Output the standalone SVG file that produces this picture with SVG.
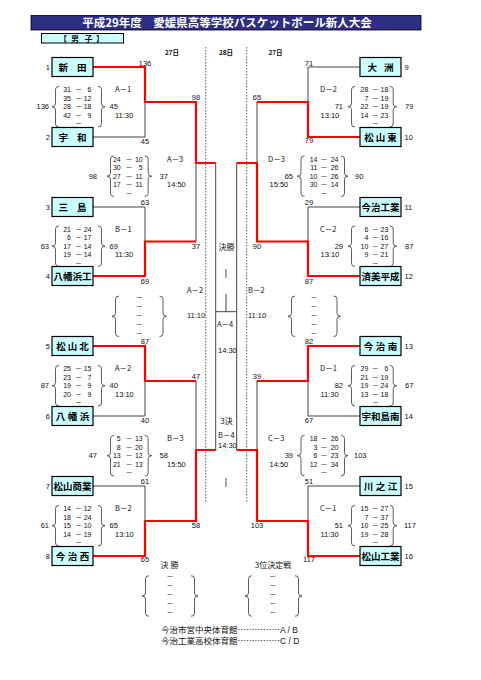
<svg xmlns="http://www.w3.org/2000/svg" width="481" height="680" viewBox="0 0 481 680">
<style>
text{font-family:"Liberation Sans",Arial,"Noto Sans CJK JP",sans-serif;fill:#111}
.n{font-size:7.5px}
.s{font-size:7px}
.e{text-anchor:end}
.m{text-anchor:middle}
.j{font-family:"Noto Sans CJK JP","Liberation Sans",sans-serif}
.d{font-family:"Noto Sans CJK JP",sans-serif;font-size:7px;text-anchor:middle}
.tm{font-family:"Noto Sans CJK JP",sans-serif;font-size:9.5px;font-weight:700;text-anchor:middle;fill:#000}
.hd{font-family:"Noto Sans CJK JP",sans-serif;font-size:6.5px;font-weight:700;text-anchor:middle}
.box{fill:#ccffff;stroke:#000;stroke-width:1.2}
.w{fill:none;stroke:#ff0000;stroke-width:2.2}
.l{fill:none;stroke:#444;stroke-width:1}
.br{fill:none;stroke:#333;stroke-width:0.8}
.dot{stroke:#333;stroke-width:0.8;stroke-dasharray:1.5 1.5}
.ft{font-family:"Noto Sans CJK JP",sans-serif;font-size:8.5px}
</style>
<defs>
<path id="bL" d="M7,-20.25 Q3.5,-20.25 3.5,-17.25 L3.5,-3 Q3.5,0 0,0 Q3.5,0 3.5,3 L3.5,17.25 Q3.5,20.25 7,20.25"/>
<path id="bR" d="M-7,-20.25 Q-3.5,-20.25 -3.5,-17.25 L-3.5,-3 Q-3.5,0 0,0 Q-3.5,0 -3.5,3 L-3.5,17.25 Q-3.5,20.25 -7,20.25"/>
</defs>
<rect width="481" height="680" fill="#fff"/>

<g id="title">
<rect x="31" y="15.5" width="390" height="14.5" fill="#2e2e85" stroke="#000" stroke-width="0.8"/>
<text x="227" y="27" style="font-family:'Noto Sans CJK JP',sans-serif;font-size:11.5px;font-weight:700;fill:#fff;text-anchor:middle">平成29年度　愛媛県高等学校バスケットボール新人大会</text>
</g>
<g id="category">
<rect x="41.5" y="33.5" width="82" height="9.5" fill="#ccffff" stroke="#000" stroke-width="1"/>
<text x="63 75 88.5 100" y="41.5" style="font-family:'Noto Sans CJK JP',sans-serif;font-size:8px;font-weight:700;text-anchor:middle">【男子】</text>
</g>
<g id="days">
<text class="hd" x="172" y="55">27日</text>
<text class="hd" x="226" y="55">28日</text>
<text class="hd" x="275.5" y="55">27日</text>
<line class="dot" x1="205.7" y1="47" x2="205.7" y2="503"/>
<line class="dot" x1="246.7" y1="47" x2="246.7" y2="503"/>
</g>

<g id="connectors">
<path class="l" d="M93,137 H145 V102"/>
<path class="l" d="M93,207 H145 V241.5"/>
<path class="l" d="M196,163 V241.5"/>
<path class="l" d="M93,416 H145 V381"/>
<path class="l" d="M196,381 V450"/>
<path class="l" d="M93,486 H145 V521"/>
<path class="l" d="M360,67 H308 V102"/>
<path class="l" d="M257,102 V163"/>
<path class="l" d="M360,207 H308 V241.5"/>
<path class="l" d="M360,416 H308 V381"/>
<path class="l" d="M257,381 V450"/>
<path class="l" d="M360,486 H308 V521"/>
<path class="l" d="M215.7,163 V450 M236.7,163 V450 M215.7,311.7 H236.7 M226,294 V311.7"/>
<path class="w" d="M93,67 H145 V102 H196 V163 H215.7"/>
<path class="w" d="M93,276 H145 V241.5 H196"/>
<path class="w" d="M93,346 H145 V381 H196"/>
<path class="w" d="M93,556 H145 V521 H196 V450 H215.7"/>
<path class="w" d="M360,137 H308 V102 H257"/>
<path class="w" d="M360,276 H308 V241.5 H257 V163 H236.7"/>
<path class="w" d="M360,346 H308 V381 H257"/>
<path class="w" d="M360,556 H308 V521 H257 V450 H236.7"/>
</g>

<g id="line-scores" class="n m">
<text x="145" y="65.5">136</text><text x="145" y="143.5">45</text>
<text x="145" y="205">63</text><text x="145" y="283.5">69</text>
<text x="145" y="344">87</text><text x="145" y="422.5">40</text>
<text x="145" y="483.5">61</text><text x="145" y="562">65</text>
<text x="196" y="100">98</text><text x="196" y="249">37</text>
<text x="196" y="379">47</text><text x="196" y="527.5">58</text>
<text x="309" y="65.5">71</text><text x="309" y="142.5">79</text>
<text x="309" y="205">29</text><text x="309" y="283.5">87</text>
<text x="309" y="344">82</text><text x="309" y="422.5">67</text>
<text x="309" y="484">51</text><text x="309" y="562">117</text>
<text x="257" y="100">65</text><text x="257" y="249">90</text>
<text x="257" y="379">39</text><text x="257" y="527.5">103</text>
</g>

<g id="team-1"><rect class="box" x="52" y="57.5" width="41" height="19"/><text class="tm" x="63.3 81.8" y="70.5">新田</text><text class="n e" x="50" y="69.7">1</text></g>
<g id="team-2"><rect class="box" x="52" y="127.5" width="41" height="19"/><text class="tm" x="63.3 81.8" y="140.5">宇和</text><text class="n e" x="50" y="139.7">2</text></g>
<g id="team-3"><rect class="box" x="52" y="197.5" width="41" height="19"/><text class="tm" x="63.3 81.8" y="210.5">三島</text><text class="n e" x="50" y="209.7">3</text></g>
<g id="team-4"><rect class="box" x="52" y="266.5" width="41" height="19"/><text class="tm" x="72.5" y="279.5">八幡浜工</text><text class="n e" x="50" y="278.7">4</text></g>
<g id="team-5"><rect class="box" x="52" y="336.5" width="41" height="19"/><text class="tm" x="61 72.5 84" y="349.5">松山北</text><text class="n e" x="50" y="348.7">5</text></g>
<g id="team-6"><rect class="box" x="52" y="406.5" width="41" height="19"/><text class="tm" x="60.5 72.5 84.5" y="419.5">八幡浜</text><text class="n e" x="50" y="418.7">6</text></g>
<g id="team-7"><rect class="box" x="52" y="476.5" width="41" height="19"/><text class="tm" x="72.5" y="489.5">松山商業</text><text class="n e" x="50" y="488.7">7</text></g>
<g id="team-8"><rect class="box" x="52" y="546.5" width="41" height="19"/><text class="tm" x="60.5 72.5 84.5" y="559.5">今治西</text><text class="n e" x="50" y="558.7">8</text></g>
<g id="team-9"><rect class="box" x="360" y="57.5" width="41" height="19"/><text class="tm" x="372.2 388.8" y="70.5">大洲</text><text class="n" x="404.5" y="69.7">9</text></g>
<g id="team-10"><rect class="box" x="360" y="127.5" width="41" height="19"/><text class="tm" x="369 380.5 392" y="140.5">松山東</text><text class="n" x="404.5" y="139.7">10</text></g>
<g id="team-11"><rect class="box" x="360" y="197.5" width="41" height="19"/><text class="tm" x="380.5" y="210.5">今治工業</text><text class="n" x="404.5" y="209.7">11</text></g>
<g id="team-12"><rect class="box" x="360" y="266.5" width="41" height="19"/><text class="tm" x="380.5" y="279.5">済美平成</text><text class="n" x="404.5" y="278.7">12</text></g>
<g id="team-13"><rect class="box" x="360" y="336.5" width="41" height="19"/><text class="tm" x="368.5 380.5 392.5" y="349.5">今治南</text><text class="n" x="404.5" y="348.7">13</text></g>
<g id="team-14"><rect class="box" x="360" y="406.5" width="41" height="19"/><text class="tm" x="380.5" y="419.5">宇和島南</text><text class="n" x="404.5" y="418.7">14</text></g>
<g id="team-15"><rect class="box" x="360" y="476.5" width="41" height="19"/><text class="tm" x="368.5 380.5 392.5" y="489.5">川之江</text><text class="n" x="404.5" y="488.7">15</text></g>
<g id="team-16"><rect class="box" x="360" y="546.5" width="41" height="19"/><text class="tm" x="380.5" y="559.5">松山工業</text><text class="n" x="404.5" y="558.7">16</text></g>

<!-- Left first round -->
<g id="game-A1" transform="translate(0,102)">
<text class="n e" x="49" y="7.4">136</text><use href="#bL" class="br" x="52" y="4.7"/>
<text class="s e" x="71" y="-10">31</text><text class="d" x="78.5" y="-10">－</text><text class="s e" x="91.5" y="-10">6</text>
<text class="s e" x="71" y="-1.4">35</text><text class="d" x="78.5" y="-1.4">－</text><text class="s e" x="91.5" y="-1.4">12</text>
<text class="s e" x="71" y="7.2">28</text><text class="d" x="78.5" y="7.2">－</text><text class="s e" x="91.5" y="7.2">18</text>
<text class="s e" x="71" y="15.8">42</text><text class="d" x="78.5" y="15.8">－</text><text class="s e" x="91.5" y="15.8">9</text>
<text class="d" x="78.5" y="24.4">－</text>
<use href="#bR" class="br" x="105" y="4.7"/><text class="n" x="109.5" y="7.4">45</text>
<text class="n j" x="115" y="-10">A－1</text><text class="n" x="115" y="15.7">11:30</text>
</g>
<g id="game-B1" transform="translate(0,241.5)">
<text class="n e" x="49" y="7.4">63</text><use href="#bL" class="br" x="52" y="4.7"/>
<text class="s e" x="71" y="-10">21</text><text class="d" x="78.5" y="-10">－</text><text class="s e" x="91.5" y="-10">24</text>
<text class="s e" x="71" y="-1.4">6</text><text class="d" x="78.5" y="-1.4">－</text><text class="s e" x="91.5" y="-1.4">17</text>
<text class="s e" x="71" y="7.2">17</text><text class="d" x="78.5" y="7.2">－</text><text class="s e" x="91.5" y="7.2">14</text>
<text class="s e" x="71" y="15.8">19</text><text class="d" x="78.5" y="15.8">－</text><text class="s e" x="91.5" y="15.8">14</text>
<text class="d" x="78.5" y="24.4">－</text>
<use href="#bR" class="br" x="105" y="4.7"/><text class="n" x="109.5" y="7.4">69</text>
<text class="n j" x="115" y="-10">B－1</text><text class="n" x="115" y="15.7">11:30</text>
</g>
<g id="game-A2" transform="translate(0,381)">
<text class="n e" x="49" y="7.4">87</text><use href="#bL" class="br" x="52" y="4.7"/>
<text class="s e" x="71" y="-10">25</text><text class="d" x="78.5" y="-10">－</text><text class="s e" x="91.5" y="-10">15</text>
<text class="s e" x="71" y="-1.4">23</text><text class="d" x="78.5" y="-1.4">－</text><text class="s e" x="91.5" y="-1.4">7</text>
<text class="s e" x="71" y="7.2">19</text><text class="d" x="78.5" y="7.2">－</text><text class="s e" x="91.5" y="7.2">9</text>
<text class="s e" x="71" y="15.8">20</text><text class="d" x="78.5" y="15.8">－</text><text class="s e" x="91.5" y="15.8">9</text>
<text class="d" x="78.5" y="24.4">－</text>
<use href="#bR" class="br" x="105" y="4.7"/><text class="n" x="109.5" y="7.4">40</text>
<text class="n j" x="115" y="-10">A－2</text><text class="n" x="115" y="15.7">13:10</text>
</g>
<g id="game-B2" transform="translate(0,521)">
<text class="n e" x="49" y="7.4">61</text><use href="#bL" class="br" x="52" y="4.7"/>
<text class="s e" x="71" y="-10">14</text><text class="d" x="78.5" y="-10">－</text><text class="s e" x="91.5" y="-10">12</text>
<text class="s e" x="71" y="-1.4">18</text><text class="d" x="78.5" y="-1.4">－</text><text class="s e" x="91.5" y="-1.4">24</text>
<text class="s e" x="71" y="7.2">15</text><text class="d" x="78.5" y="7.2">－</text><text class="s e" x="91.5" y="7.2">10</text>
<text class="s e" x="71" y="15.8">14</text><text class="d" x="78.5" y="15.8">－</text><text class="s e" x="91.5" y="15.8">19</text>
<text class="d" x="78.5" y="24.4">－</text>
<use href="#bR" class="br" x="105" y="4.7"/><text class="n" x="109.5" y="7.4">65</text>
<text class="n j" x="115" y="-10">B－2</text><text class="n" x="115" y="15.7">13:10</text>
</g>

<!-- Left semis -->
<g id="game-A3" transform="translate(0,171.5)">
<text class="n e" x="97" y="7.4">98</text><use href="#bL" class="br" x="107" y="4.7"/>
<text class="s e" x="120.7" y="-10">24</text><text class="d" x="129" y="-10">－</text><text class="s e" x="142.7" y="-10">10</text>
<text class="s e" x="120.7" y="-1.4">30</text><text class="d" x="129" y="-1.4">－</text><text class="s e" x="142.7" y="-1.4">5</text>
<text class="s e" x="120.7" y="7.2">27</text><text class="d" x="129" y="7.2">－</text><text class="s e" x="142.7" y="7.2">11</text>
<text class="s e" x="120.7" y="15.8">17</text><text class="d" x="129" y="15.8">－</text><text class="s e" x="142.7" y="15.8">11</text>
<text class="d" x="129" y="24.4">－</text>
<use href="#bR" class="br" x="151.7" y="4.7"/><text class="n" x="159.5" y="7.4">37</text>
<text class="n j" x="167" y="-10">A－3</text><text class="n" x="167" y="15.7">14:50</text>
</g>
<g id="game-B3" transform="translate(0,451)">
<text class="n e" x="97" y="7.4">47</text><use href="#bL" class="br" x="107" y="4.7"/>
<text class="s e" x="120.7" y="-10">5</text><text class="d" x="129" y="-10">－</text><text class="s e" x="142.7" y="-10">13</text>
<text class="s e" x="120.7" y="-1.4">8</text><text class="d" x="129" y="-1.4">－</text><text class="s e" x="142.7" y="-1.4">20</text>
<text class="s e" x="120.7" y="7.2">13</text><text class="d" x="129" y="7.2">－</text><text class="s e" x="142.7" y="7.2">12</text>
<text class="s e" x="120.7" y="15.8">21</text><text class="d" x="129" y="15.8">－</text><text class="s e" x="142.7" y="15.8">13</text>
<text class="d" x="129" y="24.4">－</text>
<use href="#bR" class="br" x="151.7" y="4.7"/><text class="n" x="159.5" y="7.4">58</text>
<text class="n j" x="167" y="-10">B－3</text><text class="n" x="167" y="15.7">15:50</text>
</g>

<!-- Right first round -->
<g id="game-D2" transform="translate(0,102)">
<text class="n j" x="320" y="-10">D－2</text><text class="n" x="320.5" y="15.7">13:10</text>
<text class="n e" x="343" y="7.4">71</text><use href="#bL" class="br" x="348" y="4.7"/>
<text class="s e" x="368.3" y="-10">28</text><text class="d" x="375.2" y="-10">－</text><text class="s e" x="388.3" y="-10">18</text>
<text class="s e" x="368.3" y="-1.4">7</text><text class="d" x="375.2" y="-1.4">－</text><text class="s e" x="388.3" y="-1.4">19</text>
<text class="s e" x="368.3" y="7.2">22</text><text class="d" x="375.2" y="7.2">－</text><text class="s e" x="388.3" y="7.2">19</text>
<text class="s e" x="368.3" y="15.8">14</text><text class="d" x="375.2" y="15.8">－</text><text class="s e" x="388.3" y="15.8">23</text>
<text class="d" x="375.2" y="24.4">－</text>
<use href="#bR" class="br" x="396.7" y="4.7"/><text class="n" x="405" y="7.4">79</text>
</g>
<g id="game-C2" transform="translate(0,241.5)">
<text class="n j" x="320" y="-10">C－2</text><text class="n" x="320.5" y="15.7">13:10</text>
<text class="n e" x="343" y="7.4">29</text><use href="#bL" class="br" x="348" y="4.7"/>
<text class="s e" x="368.3" y="-10">6</text><text class="d" x="375.2" y="-10">－</text><text class="s e" x="388.3" y="-10">23</text>
<text class="s e" x="368.3" y="-1.4">4</text><text class="d" x="375.2" y="-1.4">－</text><text class="s e" x="388.3" y="-1.4">16</text>
<text class="s e" x="368.3" y="7.2">10</text><text class="d" x="375.2" y="7.2">－</text><text class="s e" x="388.3" y="7.2">27</text>
<text class="s e" x="368.3" y="15.8">9</text><text class="d" x="375.2" y="15.8">－</text><text class="s e" x="388.3" y="15.8">21</text>
<text class="d" x="375.2" y="24.4">－</text>
<use href="#bR" class="br" x="396.7" y="4.7"/><text class="n" x="405" y="7.4">87</text>
</g>
<g id="game-D1" transform="translate(0,381)">
<text class="n j" x="320" y="-10">D－1</text><text class="n" x="320.5" y="15.7">11:30</text>
<text class="n e" x="343" y="7.4">82</text><use href="#bL" class="br" x="348" y="4.7"/>
<text class="s e" x="368.3" y="-10">29</text><text class="d" x="375.2" y="-10">－</text><text class="s e" x="388.3" y="-10">6</text>
<text class="s e" x="368.3" y="-1.4">21</text><text class="d" x="375.2" y="-1.4">－</text><text class="s e" x="388.3" y="-1.4">19</text>
<text class="s e" x="368.3" y="7.2">19</text><text class="d" x="375.2" y="7.2">－</text><text class="s e" x="388.3" y="7.2">24</text>
<text class="s e" x="368.3" y="15.8">13</text><text class="d" x="375.2" y="15.8">－</text><text class="s e" x="388.3" y="15.8">18</text>
<text class="d" x="375.2" y="24.4">－</text>
<use href="#bR" class="br" x="396.7" y="4.7"/><text class="n" x="405" y="7.4">67</text>
</g>
<g id="game-C1" transform="translate(0,521)">
<text class="n j" x="320" y="-10">C－1</text><text class="n" x="320.5" y="15.7">11:30</text>
<text class="n e" x="343" y="7.4">51</text><use href="#bL" class="br" x="348" y="4.7"/>
<text class="s e" x="368.3" y="-10">15</text><text class="d" x="375.2" y="-10">－</text><text class="s e" x="388.3" y="-10">27</text>
<text class="s e" x="368.3" y="-1.4">7</text><text class="d" x="375.2" y="-1.4">－</text><text class="s e" x="388.3" y="-1.4">37</text>
<text class="s e" x="368.3" y="7.2">10</text><text class="d" x="375.2" y="7.2">－</text><text class="s e" x="388.3" y="7.2">25</text>
<text class="s e" x="368.3" y="15.8">19</text><text class="d" x="375.2" y="15.8">－</text><text class="s e" x="388.3" y="15.8">28</text>
<text class="d" x="375.2" y="24.4">－</text>
<use href="#bR" class="br" x="396.7" y="4.7"/><text class="n" x="404" y="7.4">117</text>
</g>

<!-- Right semis -->
<g id="game-D3" transform="translate(0,171.5)">
<text class="n j" x="268" y="-10">D－3</text><text class="n" x="269.5" y="15.7">15:50</text>
<text class="n e" x="293" y="7.4">65</text><use href="#bL" class="br" x="297.5" y="4.7"/>
<text class="s e" x="317.5" y="-10">14</text><text class="d" x="324" y="-10">－</text><text class="s e" x="338.5" y="-10">24</text>
<text class="s e" x="317.5" y="-1.4">11</text><text class="d" x="324" y="-1.4">－</text><text class="s e" x="338.5" y="-1.4">26</text>
<text class="s e" x="317.5" y="7.2">10</text><text class="d" x="324" y="7.2">－</text><text class="s e" x="338.5" y="7.2">26</text>
<text class="s e" x="317.5" y="15.8">30</text><text class="d" x="324" y="15.8">－</text><text class="s e" x="338.5" y="15.8">14</text>
<text class="d" x="324" y="24.4">－</text>
<use href="#bR" class="br" x="348" y="4.7"/><text class="n" x="355" y="7.4">90</text>
</g>
<g id="game-C3" transform="translate(0,451)">
<text class="n j" x="268" y="-10">C－3</text><text class="n" x="269.5" y="15.7">14:50</text>
<text class="n e" x="293" y="7.4">39</text><use href="#bL" class="br" x="297.5" y="4.7"/>
<text class="s e" x="317.5" y="-10">18</text><text class="d" x="324" y="-10">－</text><text class="s e" x="338.5" y="-10">26</text>
<text class="s e" x="317.5" y="-1.4">3</text><text class="d" x="324" y="-1.4">－</text><text class="s e" x="338.5" y="-1.4">20</text>
<text class="s e" x="317.5" y="7.2">6</text><text class="d" x="324" y="7.2">－</text><text class="s e" x="338.5" y="7.2">23</text>
<text class="s e" x="317.5" y="15.8">12</text><text class="d" x="324" y="15.8">－</text><text class="s e" x="338.5" y="15.8">34</text>
<text class="d" x="324" y="24.4">－</text>
<use href="#bR" class="br" x="348" y="4.7"/><text class="n" x="354" y="7.4">103</text>
</g>

<!-- Centre -->
<g id="centre">
<text class="n j m" x="226.5" y="249.5" style="font-size:8px">決勝</text>
<text class="n m" x="226" y="275.5" style="font-size:9px">|</text>
<text class="n j" x="187" y="292.5">A－2</text><text class="n" x="187" y="318">11:10</text>
<text class="n j" x="248" y="292.5">B－2</text><text class="n" x="248" y="318">11:10</text>
<text class="n j" x="217" y="326.5">A－4</text><text class="n" x="218" y="353">14:30</text>
<text class="n j m" x="226.5" y="424" style="font-size:8px">3決</text>
<text class="n j" x="218" y="438">B－4</text><text class="n" x="218" y="447.5">14:30</text>
<text class="n m" x="226" y="485" style="font-size:9px">|</text>
</g>
<g id="empty-left" transform="translate(0,316.3)">
<use href="#bL" class="br" x="112" y="0"/>
<text class="d"><tspan x="139.3" y="-16.5">－</tspan><tspan x="139.3" y="-7.5">－</tspan><tspan x="139.3" y="1.5">－</tspan><tspan x="139.3" y="10.5">－</tspan><tspan x="139.3" y="19.5">－</tspan></text>
<use href="#bR" class="br" x="166.5" y="0"/>
</g>
<g id="empty-right" transform="translate(0,316.3)">
<use href="#bL" class="br" x="288" y="0"/>
<text class="d"><tspan x="314" y="-16.5">－</tspan><tspan x="314" y="-7.5">－</tspan><tspan x="314" y="1.5">－</tspan><tspan x="314" y="10.5">－</tspan><tspan x="314" y="19.5">－</tspan></text>
<use href="#bR" class="br" x="340.5" y="0"/>
</g>

<!-- Bottom -->
<g id="final" transform="translate(0,596)">
<text class="n j m" x="169.5" y="-28" style="font-size:8px">決 勝</text>
<use href="#bL" class="br" x="142" y="0"/>
<text class="d"><tspan x="170" y="-17">－</tspan><tspan x="170" y="-8">－</tspan><tspan x="170" y="1">－</tspan><tspan x="170" y="10">－</tspan><tspan x="170" y="19">－</tspan></text>
<use href="#bR" class="br" x="198" y="0"/>
</g>
<g id="third" transform="translate(0,596)">
<text class="n j m" x="273" y="-28" style="font-size:8px">3位決定戦</text>
<use href="#bL" class="br" x="245" y="0"/>
<text class="d"><tspan x="272.7" y="-17">－</tspan><tspan x="272.7" y="-8">－</tspan><tspan x="272.7" y="1">－</tspan><tspan x="272.7" y="10">－</tspan><tspan x="272.7" y="19">－</tspan></text>
<use href="#bR" class="br" x="302" y="0"/>
</g>
<g id="venues">
<text class="ft" x="161" y="633">今治市営中央体育館……………<tspan style="font-family:'Liberation Sans',sans-serif;font-size:8.5px">A / B</tspan></text>
<text class="ft" x="161" y="643.5">今治工業高校体育館……………<tspan style="font-family:'Liberation Sans',sans-serif;font-size:8.5px">C / D</tspan></text>
</g>
</svg>
